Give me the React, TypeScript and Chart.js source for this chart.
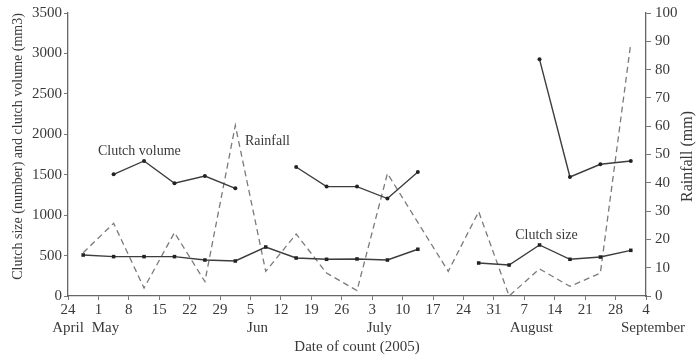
import React, { useEffect, useRef } from "react";
import { Chart, registerables } from "chart.js";

Chart.register(...registerables);

// Days after 24 April 2005 at which counts were made
const sampleDays = [3.5, 10.5, 17.5, 24.5, 31.5, 38.5, 45.5, 52.5, 59.5, 66.5, 73.5, 80.5, 87.5, 94.5, 101.5, 108.5, 115.5, 122.5, 129.5];

const clutchSize = [507, 487, 487, 487, 445, 433, 606, 470, 454, 458, 445, 578, null, 408, 383, 631, 454, 482, 565];
const clutchVolume = [null, 1505, 1670, 1394, 1484, 1332, null, 1595, 1353, 1353, 1205, 1534, null, null, null, 2927, 1472, 1629, 1670];
const rainfall = [15.3, 25.7, 2.8, 22.4, 5.1, 60.3, 8.7, 21.9, 8.1, 1.9, 43.3, 26, 8.7, 29.8, 0, 9.6, 3.4, 8.1, 89.3];

const dayTickLabels = ["24", "1", "8", "15", "22", "29", "5", "12", "19", "26", "3", "10", "17", "24", "31", "7", "14", "21", "28", "4"];
const monthTickLabels = ["April", "May", "", "", "", "", "Jun", "", "", "", "July", "", "", "", "", "August", "", "", "", "September"];

const annotationTexts = ["Clutch volume", "Rainfall", "Clutch size"];
const annotationDays = [6.9, 40.7, 102.9];
const annotationValues = [1790, 54.7, 750];
const annotationAxes = ["y", "y1", "y"];

const FONT = "'Liberation Serif', 'Times New Roman', serif";
const TEXT = "#3a3a3a";

export default function App() {
  const ref = useRef<HTMLCanvasElement | null>(null);

  useEffect(() => {
    document.body.style.margin = "0";
    const canvas = ref.current;
    if (!canvas) return;

    const labelsPlugin = {
      id: "extraText",
      afterDraw(chart: any) {
        const ctx = chart.ctx;
        const ca = chart.chartArea;
        ctx.save();
        ctx.fillStyle = TEXT;
        ctx.font = `14px ${FONT}`;
        ctx.textBaseline = "middle";
        ctx.textAlign = "left";
        for (let i = 0; i < annotationTexts.length; i++) {
          const x = chart.scales.x.getPixelForValue(annotationDays[i]);
          const y = chart.scales[annotationAxes[i]].getPixelForValue(annotationValues[i]);
          ctx.fillText(annotationTexts[i], x, y);
        }
        // month names under the day ticks
        ctx.font = `15px ${FONT}`;
        ctx.textAlign = "center";
        for (let i = 0; i < monthTickLabels.length; i++) {
          const m = monthTickLabels[i];
          if (!m) continue;
          const x = chart.scales.x.getPixelForValue(i * 7) + (i === 0 ? 0 : 7);
          ctx.fillText(m, x, ca.bottom + 32);
        }
        // left axis title
        ctx.save();
        ctx.translate(18, (ca.top + ca.bottom) / 2 - 8);
        ctx.rotate(-Math.PI / 2);
        ctx.textAlign = "center";
        ctx.font = `14px ${FONT}`;
        ctx.fillText("Clutch size (number) and clutch volume (mm3)", 0, 0);
        ctx.restore();
        // right axis title
        ctx.save();
        ctx.translate(688, (ca.top + ca.bottom) / 2 + 2);
        ctx.rotate(-Math.PI / 2);
        ctx.textAlign = "center";
        ctx.font = `16px ${FONT}`;
        ctx.fillText("Rainfall (mm)", 0, 0);
        ctx.restore();
        ctx.restore();
      },
    };

    const pts = (arr: (number | null)[]) => arr.map((v, i) => ({ x: sampleDays[i], y: v }));

    const chart = new Chart(canvas, {
      type: "line",
      data: {
        datasets: [
          {
            label: "Clutch size",
            data: pts(clutchSize) as any,
            yAxisID: "y",
            borderColor: "#3d3d3d",
            backgroundColor: "#222",
            borderWidth: 1.4,
            pointStyle: "rect",
            pointRadius: 2.5,
            pointBorderWidth: 0,
            spanGaps: false,
          },
          {
            label: "Clutch volume",
            data: pts(clutchVolume) as any,
            yAxisID: "y",
            borderColor: "#3d3d3d",
            backgroundColor: "#222",
            borderWidth: 1.4,
            pointStyle: "circle",
            pointRadius: 2,
            pointBorderWidth: 0,
            spanGaps: false,
          },
          {
            label: "Rainfall",
            data: pts(rainfall) as any,
            yAxisID: "y1",
            borderColor: "#7a7a7a",
            borderWidth: 1.3,
            borderDash: [6, 4],
            pointRadius: 0,
            spanGaps: false,
          },
        ],
      },
      options: {
        responsive: false,
        animation: false,
        devicePixelRatio: 1,
        layout: { padding: { top: 12, left: 0, right: 0, bottom: 0 } },
        plugins: { legend: { display: false }, tooltip: { enabled: false } },
        scales: {
          x: {
            type: "linear",
            min: 0,
            max: 133,
            afterFit: (s: any) => { s.height = 63; },
            afterBuildTicks: (s: any) => {
              s.ticks = dayTickLabels.map((_, i) => ({ value: i * 7 }));
            },
            ticks: {
              autoSkip: false,
              maxRotation: 0,
              padding: 1,
              color: TEXT,
              font: { family: FONT, size: 15, lineHeight: 1.2 },
              callback: (_v: any, i: number) => dayTickLabels[i],
            },
            grid: { drawOnChartArea: false, drawTicks: true, tickLength: 4, color: "#777" },
            border: { color: "#666", width: 1.3 },
            title: {
              display: true,
              text: "Date of count (2005)",
              color: TEXT,
              font: { family: FONT, size: 15, lineHeight: 1.2 },
              padding: { top: 0, bottom: 3 },
            },
          },
          y: {
            position: "left",
            min: 0,
            max: 3500,
            afterFit: (s: any) => { s.width = 68; },
            ticks: {
              stepSize: 500,
              padding: 2,
              color: TEXT,
              font: { family: FONT, size: 15 },
              callback: (v: any) => String(v),
            },
            grid: { drawOnChartArea: false, drawTicks: true, tickLength: 4, color: "#777" },
            border: { color: "#666", width: 1.3 },
          },
          y1: {
            position: "right",
            min: 0,
            max: 100,
            afterFit: (s: any) => { s.width = 53; },
            ticks: {
              stepSize: 10,
              padding: 4,
              color: TEXT,
              font: { family: FONT, size: 15 },
              callback: (v: any) => String(v),
            },
            grid: { drawOnChartArea: false, drawTicks: true, tickLength: 5, color: "#777" },
            border: { color: "#666", width: 1.3 },
          },
        },
      },
      plugins: [labelsPlugin],
    } as any);

    return () => chart.destroy();
  }, []);

  return (
    <div style={{ width: 699, height: 359, background: "#fff" }}>
      <canvas ref={ref} width={699} height={359} />
    </div>
  );
}
